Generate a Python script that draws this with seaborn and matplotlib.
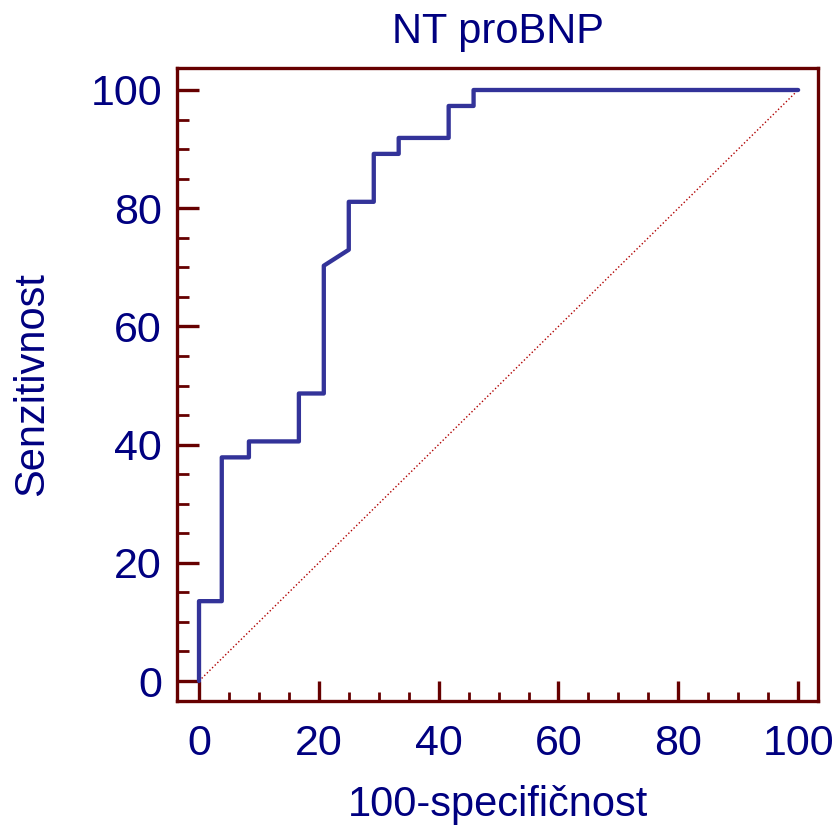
import numpy as np
import pandas as pd
import matplotlib
matplotlib.use("Agg")
import matplotlib.pyplot as plt
import seaborn as sns
from matplotlib.ticker import MultipleLocator

# ROC curve points (100-specificity, sensitivity), in percent
fpr = [0, 0, 3.8, 3.8, 8.33, 8.33, 16.67, 16.67, 20.83, 20.83, 25.0, 25.0,
       29.17, 29.17, 33.33, 33.33, 41.67, 41.67, 45.83, 45.83, 100]
tpr = [0, 13.51, 13.51, 37.84, 37.84, 40.54, 40.54, 48.65, 48.65, 70.27, 72.97, 81.08,
       81.08, 89.19, 89.19, 91.89, 91.89, 97.30, 97.30, 100, 100]
diag = [0, 100]

title = "NT proBNP"
xlabel = "100-specifičnost"
ylabel = "Senzitivnost"

navy = "#000080"
maroon = "#660000"
blue = "#333399"

sns.set_style("white")
plt.rcParams["font.family"] = ["Liberation Sans", "DejaVu Sans"]

df = pd.DataFrame({"x": fpr, "y": tpr})

fig = plt.figure(figsize=(8.38, 8.30), dpi=100)
ax = fig.add_axes([0.2116, 0.1558, 0.7649, 0.7619])

# reference diagonal
ax.plot(diag, diag, linestyle=":", color="#b00000", linewidth=1.0, zorder=1)

sns.lineplot(data=df, x="x", y="y", sort=False, estimator=None, ax=ax,
             color=blue, linewidth=3.1, solid_capstyle="round", zorder=3)

ax.set_xlim(-3.62, 103.37)
ax.set_ylim(-3.33, 103.67)

ax.xaxis.set_major_locator(MultipleLocator(20))
ax.xaxis.set_minor_locator(MultipleLocator(5))
ax.yaxis.set_major_locator(MultipleLocator(20))
ax.yaxis.set_minor_locator(MultipleLocator(5))

for s in ax.spines.values():
    s.set_color(maroon)
    s.set_linewidth(2.4)

ax.tick_params(axis="x", which="major", direction="in", length=14.2, width=2.4,
               color=maroon, labelsize=31, labelcolor=navy, pad=16.5, bottom=True)
ax.tick_params(axis="x", which="minor", direction="in", length=6.5, width=2.0,
               color=maroon, bottom=True)
ax.tick_params(axis="y", which="major", direction="in", length=15.6, width=2.4,
               color=maroon, labelsize=31, labelcolor=navy, pad=11, left=True)
ax.tick_params(axis="y", which="minor", direction="in", length=8.6, width=2.0,
               color=maroon, left=True)

ax.set_title(title, fontsize=30, color=navy, pad=18.4)
ax.set_xlabel(xlabel, fontsize=30, color=navy)
ax.set_ylabel(ylabel, fontsize=30, color=navy)
ax.xaxis.set_label_coords(0.5, -0.133)
ax.yaxis.set_label_coords(-0.1955, 0.5)

fig.savefig("out.png", dpi=100)
